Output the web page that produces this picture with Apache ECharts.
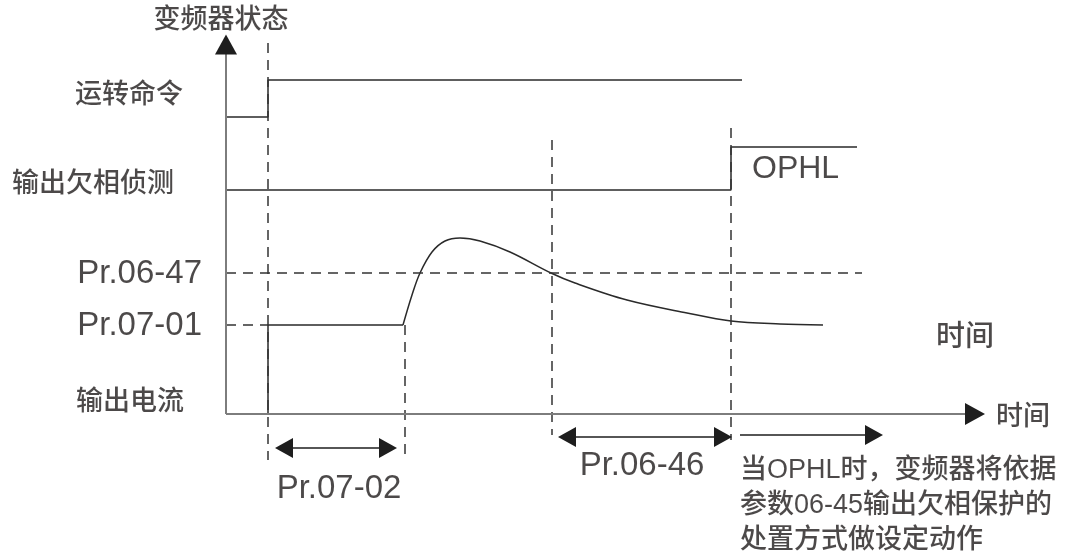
<!DOCTYPE html>
<html>
<head>
<meta charset="utf-8">
<script src="https://cdn.jsdelivr.net/npm/echarts@6/dist/echarts.min.js"></script>
<style>html,body{margin:0;padding:0;background:#fff}#c{width:1069px;height:557px}</style>
</head>
<body>
<div id="c"></div>
<script>
// Schematic timing diagram: time units on x, signal levels on y
const eventTimes = { run: 4.2, detect: 17.9, cross: 32.6, ophl: 50.5 };
const runCommand = [[0, 29.7], [4.2, 29.7], [4.2, 33.4], [51.6, 33.4]];
const phaseDetect = [[0, 22.4], [50.5, 22.4], [50.5, 26.7], [63.1, 26.7]];
const currentStep = [[4.2, 0], [4.2, 8.9], [17.7, 8.9]];
const currentCurve = [[17.7, 8.9], [18.6, 11.9], [19.4, 14.1], [20.6, 16.2], [21.9, 17.3], [23.4, 17.6], [25.4, 17.3], [28.4, 16.2], [32.5, 14.1], [34.9, 13.1], [40.1, 11.4], [46.1, 10.1], [50.5, 9.3], [55.4, 9.0], [59.7, 8.9]];
const levelPr0647 = [[0, 14.1], [63.6, 14.1]];
const levelPr0701 = [[0, 8.9], [4.2, 8.9]];
const dashedVerticals = [
  [[4.2, 37.1], [4.2, -4.6]],
  [[17.9, 8.9], [17.9, -4.6]],
  [[32.6, 27.4], [32.6, -2.1]],
  [[50.5, 28.6], [50.5, -2.6]]
];
const intervalArrows = [
  [[5.8, -3.4], [16.2, -3.4], 'both'],
  [[34.1, -2.3], [49.7, -2.3], 'both'],
  [[51.4, -2.1], [64.8, -2.1], 'end']
];
const timeAxis = [[0, 0], [74.9, 0]];
const stateAxis = [[0, 0], [0, 36.95]];
const axisArrowHeads = [
  [[74.0, 0], [74.9, 0]],
  [[0, 36.0], [0, 36.95]]
];
const textLabels = [
  ['变频器状态', -0.5, 39.3, 'center', 27],
  ['运转命令', -4.3, 31.8, 'right', 27],
  ['输出欠相侦测', -5.2, 22.9, 'right', 27],
  ['Pr.06-47', -2.4, 14.0, 'right', 33],
  ['Pr.07-01', -2.4, 8.85, 'right', 33],
  ['输出电流', -4.2, 1.1, 'right', 27],
  ['时间', 73.9, 7.6, 'center', 29],
  ['时间', 77.0, -0.4, 'left', 27],
  ['OPHL', 52.6, 24.45, 'left', 32],
  ['Pr.07-02', 11.3, -7.5, 'center', 33],
  ['Pr.06-46', 41.6, -5.2, 'center', 33],
  ['当OPHL时，变频器将依据\n参数06-45输出欠相保护的\n处置方式做设定动作', 51.4, -9.2, 'left', 27]
];

const FONT = '"Liberation Sans", Arial, "Noto Sans CJK SC", sans-serif';
const LINE = '#2a2a2a';
const AXIS = '#7d7d7d';
const DASH = [10, 7];

function solid(data, opts) {
  return Object.assign({ type: 'line', data: data, symbol: 'none', silent: true,
    lineStyle: { color: LINE, width: 1.5 } }, opts || {});
}
function dashed(data) {
  return { type: 'line', data: data, symbol: 'none', silent: true,
    lineStyle: { color: '#333', width: 1.5, type: DASH } };
}

const series = [];
series.push(solid(runCommand));
series.push(solid(phaseDetect));
series.push(solid(currentStep));
series.push(solid(currentCurve, { smooth: 0.35 }));
series.push(dashed(levelPr0647));
series.push(dashed(levelPr0701));
dashedVerticals.forEach(d => series.push(dashed(d)));
series.push(solid(timeAxis, { lineStyle: { color: AXIS, width: 2 } }));
series.push(solid(stateAxis, { lineStyle: { color: AXIS, width: 2 } }));

// axis arrow heads
series.push({
  type: 'line', data: [], silent: true,
  markLine: {
    silent: true, animation: false,
    label: { show: false },
    lineStyle: { color: '#1e1e1e', width: 2, type: 'solid' },
    symbol: ['none', 'triangle'], symbolSize: [22, 20],
    data: axisArrowHeads.map(a => [{ coord: a[0] }, { coord: a[1] }])
  }
});
// interval arrows
series.push({
  type: 'line', data: [], silent: true,
  markLine: {
    silent: true, animation: false,
    label: { show: false },
    lineStyle: { color: '#1e1e1e', width: 1.5, type: 'solid' },
    symbolSize: [20, 18],
    data: intervalArrows.map(a => [
      { coord: a[0], symbol: a[2] === 'both' ? 'triangle' : 'none' },
      { coord: a[1], symbol: 'triangle' }
    ])
  }
});
// text
series.push({
  type: 'scatter', symbolSize: 0, silent: true,
  data: textLabels.map(t => ({
    value: [t[1], t[2]],
    label: {
      show: true, position: [0, 0], formatter: t[0],
      align: t[3], verticalAlign: 'middle',
      fontSize: t[4], fontFamily: FONT, color: '#1f1b1c',
      fontWeight: 500,
      lineHeight: 35
    }
  }))
});

const chart = echarts.init(document.getElementById('c'), null, { renderer: 'canvas' });
chart.setOption({
  animation: false,
  backgroundColor: '#fff',
  grid: { left: 0, right: 0, top: 0, bottom: 0 },
  xAxis: { type: 'value', min: -22.6, max: 84.3, show: false },
  yAxis: { type: 'value', min: -14.3, max: 41.4, show: false },
  series: series
});
</script>
</body>
</html>
